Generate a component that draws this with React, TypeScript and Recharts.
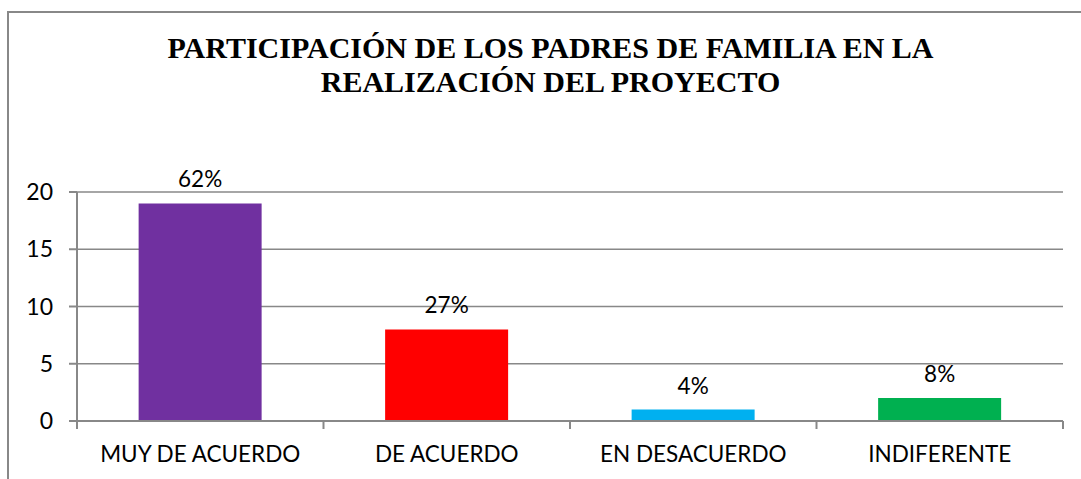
import React from "react";
import { BarChart, Bar, XAxis, YAxis, CartesianGrid, Cell, LabelList } from "recharts";

const categories = ["MUY DE ACUERDO", "DE ACUERDO", "EN DESACUERDO", "INDIFERENTE"];
const counts = [19, 8, 1, 2];
const percents = ["62%", "27%", "4%", "8%"];
const colors = ["#7030A0", "#FF0000", "#00B0F0", "#00B050"];
const yTicks = [0, 5, 10, 15, 20];

const data = categories.map((name, i) => ({ name, value: counts[i], pct: percents[i] }));

const FONT = "Lato, 'Open Sans', sans-serif";
const AXIS = "#888888";

function CategoryTick(props: any) {
  const { x, y, payload, index, width } = props;
  const band = width / categories.length;
  const left = x - band / 2;
  return (
    <g>
      <line x1={left} y1={y - 8} x2={left} y2={y} stroke={AXIS} strokeWidth={2} />
      {index === categories.length - 1 && (
        <line x1={left + band} y1={y - 8} x2={left + band} y2={y} stroke={AXIS} strokeWidth={2} />
      )}
      <text x={x} y={y + 33} textAnchor="middle" fill="#000" fontSize={22.5} fontFamily={FONT}>
        {payload.value}
      </text>
    </g>
  );
}

export default function App() {
  return (
    <div style={{ position: "absolute", left: 0, top: 0, width: 1081, height: 479, background: "#fff", overflow: "hidden" }}>
      {/* chart frame, cut off at right and bottom */}
      <div
        style={{
          position: "absolute",
          left: 7,
          top: 11,
          width: 1100,
          height: 500,
          borderLeft: "2px solid #888",
          borderTop: "2px solid #888",
        }}
      />
      <div
        style={{
          position: "absolute",
          left: 0,
          top: 31,
          width: 1101,
          textAlign: "center",
          fontFamily: "'Liberation Serif', 'Times New Roman', serif",
          fontWeight: "bold",
          fontSize: 30,
          lineHeight: "34px",
          color: "#000",
        }}
      >
        PARTICIPACIÓN DE LOS PADRES DE FAMILIA EN LA
        <br />
        REALIZACIÓN DEL PROYECTO
      </div>
      <div style={{ position: "absolute", left: 0, top: 0 }}>
        <BarChart
          width={1081}
          height={479}
          data={data}
          margin={{ top: 192, right: 18, bottom: 18, left: 17 }}
          barCategoryGap="25%"
        >
          <CartesianGrid horizontal vertical={false} stroke={AXIS} strokeWidth={1.5} />
          <YAxis
            domain={[0, 20]}
            ticks={yTicks}
            width={60}
            axisLine={{ stroke: AXIS, strokeWidth: 2 }}
            tickLine={{ stroke: AXIS, strokeWidth: 2 }}
            tickSize={8}
            tickMargin={16}
            tick={{ fill: "#000", fontSize: 23, fontFamily: FONT }}
          />
          <XAxis
            dataKey="name"
            height={40}
            axisLine={{ stroke: AXIS, strokeWidth: 2 }}
            tickLine={false}
            interval={0}
            tick={<CategoryTick />}
          />
          <Bar dataKey="value" isAnimationActive={false}>
            {data.map((d, i) => (
              <Cell key={d.name} fill={colors[i]} />
            ))}
            <LabelList dataKey="pct" position="top" offset={16} fill="#000" fontSize={22.5} fontFamily={FONT} />
          </Bar>
        </BarChart>
      </div>
    </div>
  );
}
